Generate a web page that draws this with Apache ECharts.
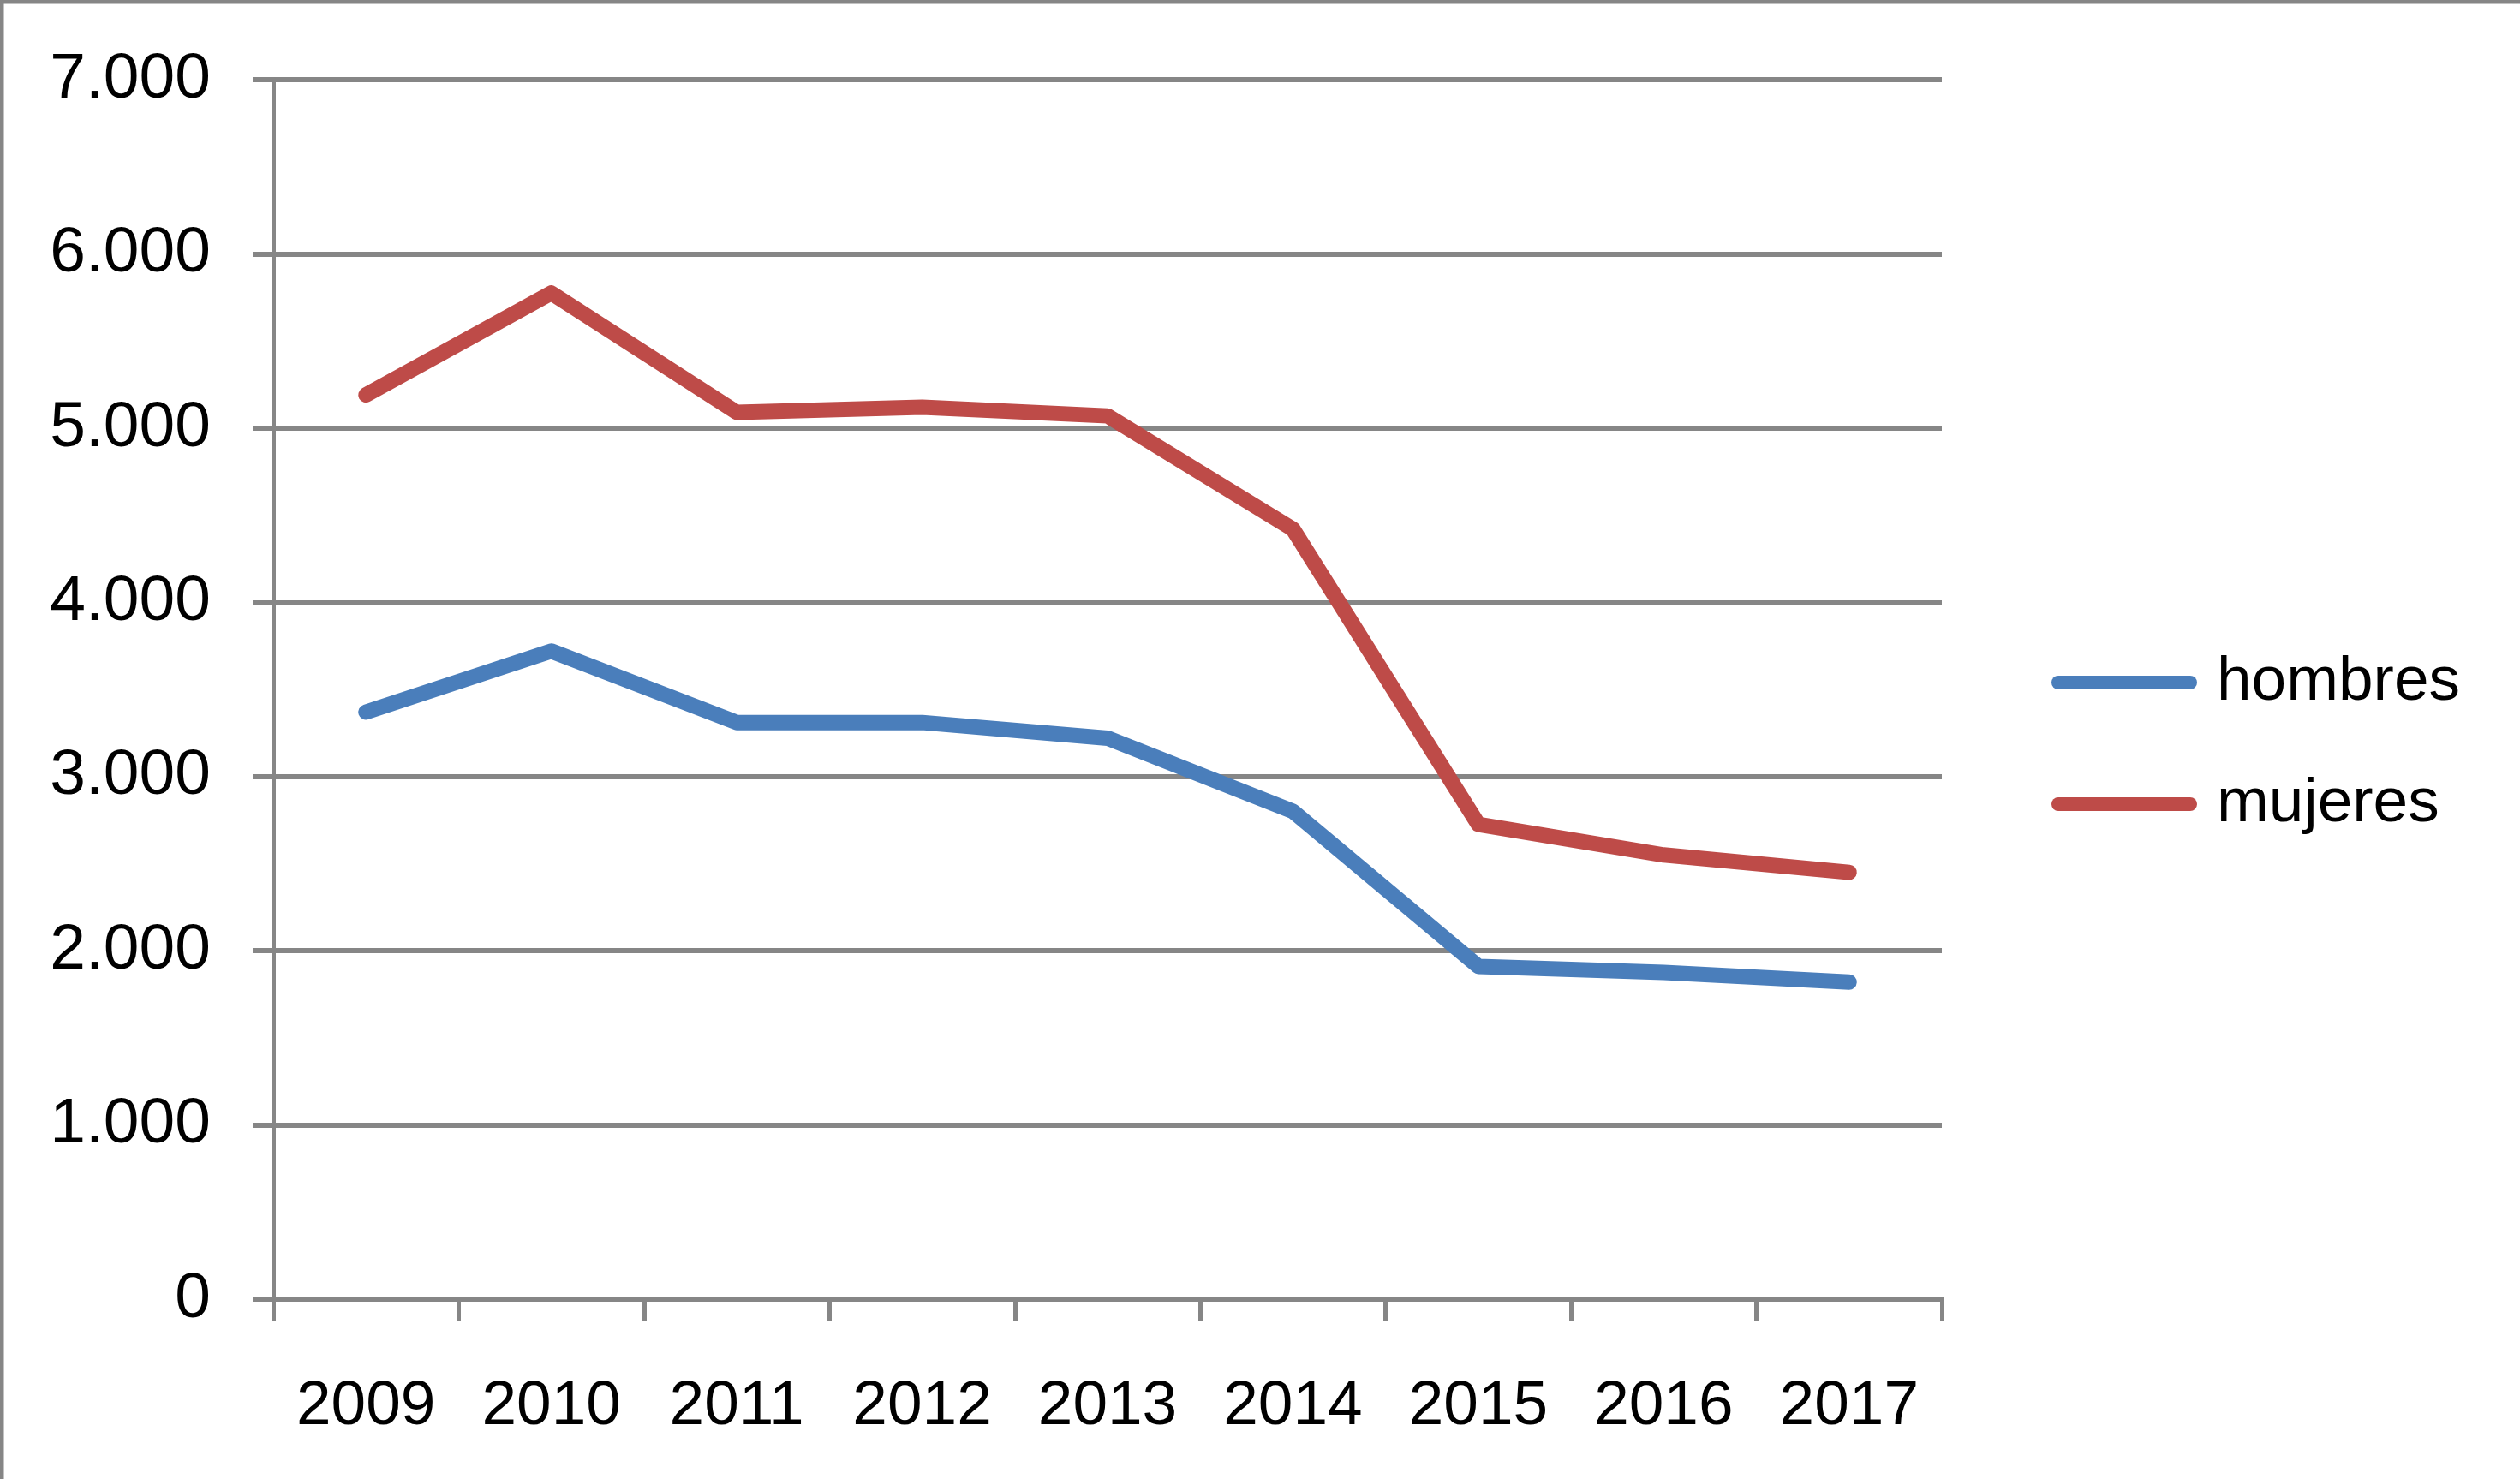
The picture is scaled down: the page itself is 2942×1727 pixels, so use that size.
<!DOCTYPE html>
<html>
<head>
<meta charset="utf-8">
<script src="https://cdn.jsdelivr.net/npm/echarts@6/dist/echarts.min.js"></script>
<style>
html,body{margin:0;padding:0;background:#fff;}
#chart{width:2942px;height:1727px;}
</style>
</head>
<body>
<div id="chart"></div>
<script>
const years = ['2009','2010','2011','2012','2013','2014','2015','2016','2017'];
const hombres = [3370, 3720, 3310, 3310, 3220, 2800, 1910, 1875, 1820];
const mujeres = [5190, 5775, 5090, 5120, 5070, 4420, 2725, 2550, 2450];
const yTickLabels = ['0','1.000','2.000','3.000','4.000','5.000','6.000','7.000'];

const GRAY = '#868686';
const FONT = 'Liberation Sans';
const stadium = 'path://M8,0 H162 A8,8 0 0 1 162,16 H8 A8,8 0 0 1 8,0 Z';

const chart = echarts.init(document.getElementById('chart'));
chart.setOption({
  backgroundColor: '#ffffff',
  animation: false,
  textStyle: { fontFamily: FONT },
  graphic: [{
    type: 'polyline',
    shape: { points: [[2, 1727], [2, 2], [2942, 2]] },
    style: { stroke: GRAY, lineWidth: 5, fill: null }
  }],
  grid: { left: 319, right: 675, top: 93, bottom: 210, containLabel: false },
  legend: {
    orient: 'vertical',
    left: 2390,
    top: 739,
    itemWidth: 170,
    itemHeight: 16,
    itemGap: 36,
    textStyle: { fontFamily: FONT, fontSize: 73, color: '#000', lineHeight: 72, padding: [34, 0, 0, 18] },
    data: [
      { name: 'hombres', icon: stadium },
      { name: 'mujeres', icon: stadium }
    ]
  },
  xAxis: {
    type: 'category',
    data: years,
    boundaryGap: true,
    axisLine: { lineStyle: { color: GRAY, width: 6 } },
    axisTick: { show: true, length: 25, lineStyle: { color: GRAY, width: 5 } },
    axisLabel: { fontFamily: FONT, fontSize: 73, color: '#000', margin: 89 },
    splitLine: { show: false }
  },
  yAxis: {
    type: 'value',
    min: 0,
    max: 7000,
    interval: 1000,
    axisLine: { show: true, lineStyle: { color: GRAY, width: 5 } },
    axisTick: { show: true, length: 24, lineStyle: { color: GRAY, width: 6 } },
    axisLabel: {
      fontFamily: FONT, fontSize: 75, color: '#000', margin: 73,
      padding: [18, 0, 0, 0],
      formatter: v => yTickLabels[Math.round(v / 1000)]
    },
    splitLine: { show: true, lineStyle: { color: GRAY, width: 6 } }
  },
  series: [
    {
      name: 'hombres', type: 'line', data: hombres,
      symbol: 'none', color: '#4A7EBB',
      lineStyle: { color: '#4A7EBB', width: 18, cap: 'round', join: 'round' }
    },
    {
      name: 'mujeres', type: 'line', data: mujeres,
      symbol: 'none', color: '#BE4B48',
      lineStyle: { color: '#BE4B48', width: 18, cap: 'round', join: 'round' }
    }
  ]
});
</script>
</body>
</html>
